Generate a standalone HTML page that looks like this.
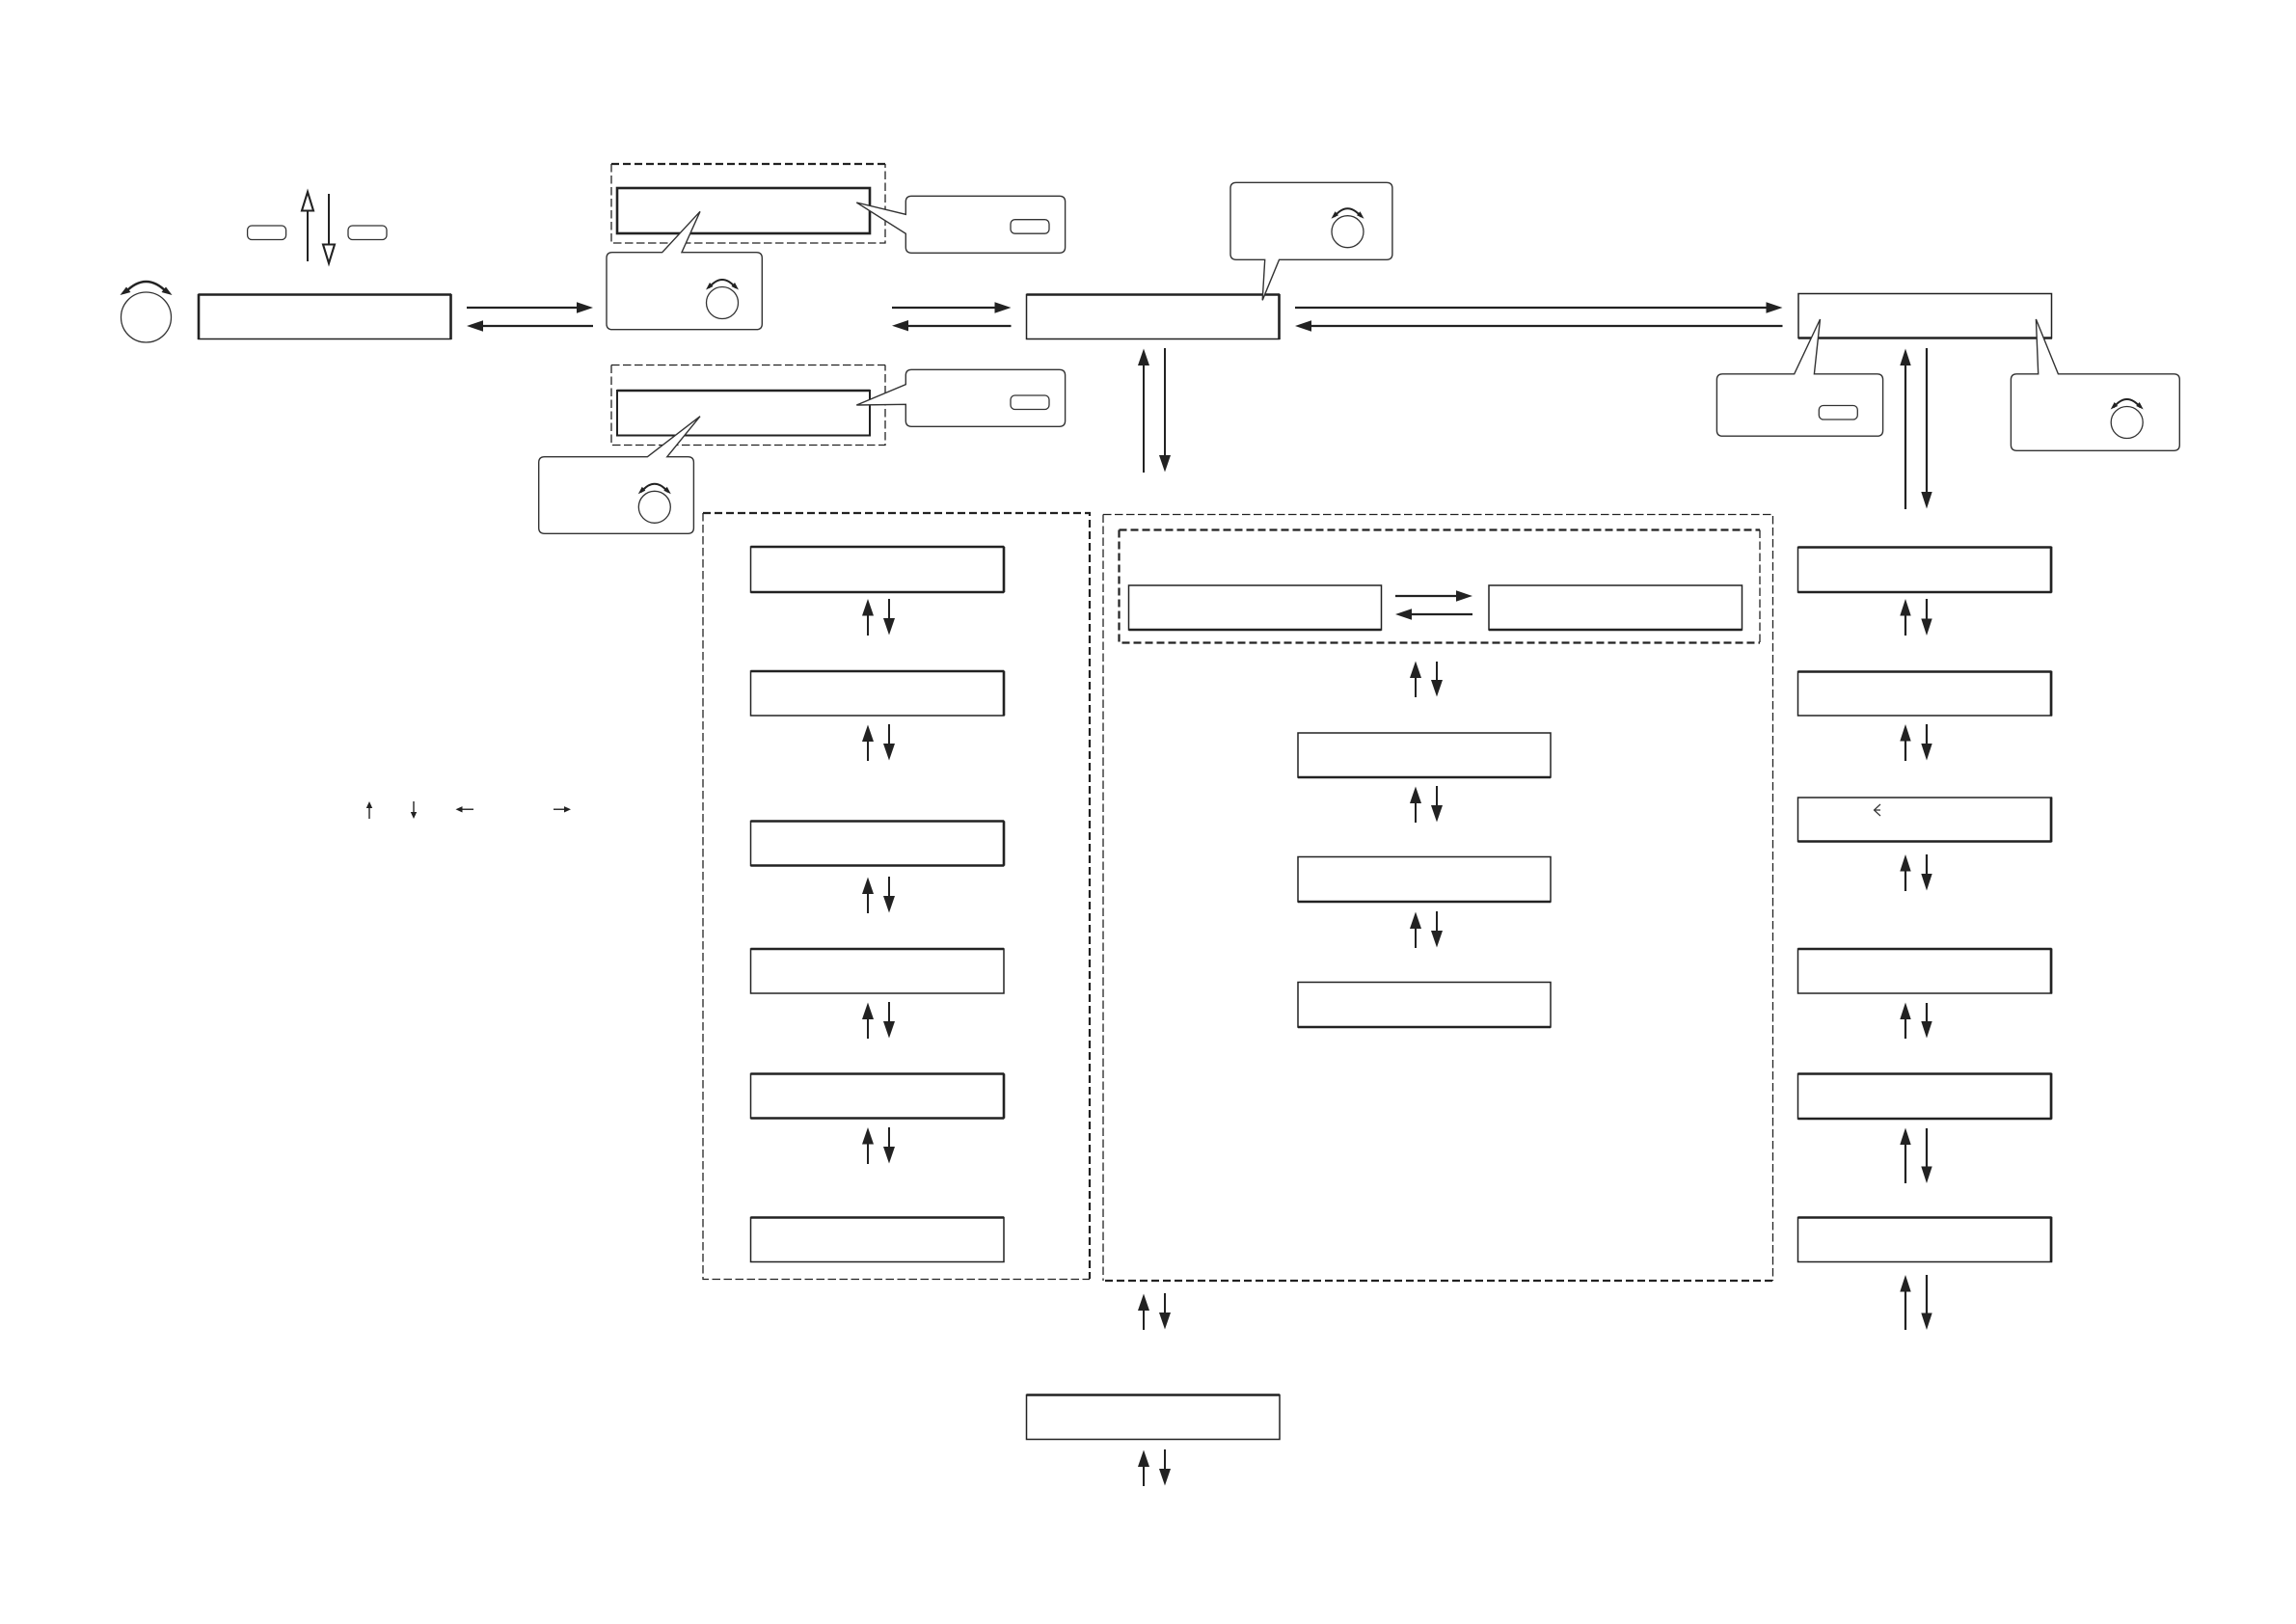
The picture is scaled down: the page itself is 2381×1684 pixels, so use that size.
<!DOCTYPE html>
<html>
<head>
<meta charset="utf-8">
<title>Diagram</title>
<style>
html,body{margin:0;padding:0;background:#fff;width:2381px;height:1684px;overflow:hidden}
svg{display:block}
.b{fill:#fff;stroke:#222;stroke-width:1.5}
.t{fill:none;stroke:#222;stroke-width:2.6}
.c{fill:#fff;stroke:#333;stroke-width:1.4}
.l{fill:none;stroke:#222;stroke-width:2.2}
.v{fill:none;stroke:#222;stroke-width:2}
.h{fill:#222;stroke:none}
.d1{fill:none;stroke:#222;stroke-width:1.3;stroke-dasharray:8.5 3.5}
.d2{fill:none;stroke:#222;stroke-width:2.2;stroke-dasharray:8 4}
.k{fill:#fff;stroke:#333;stroke-width:1.3}
</style>
</head>
<body>
<svg xmlns="http://www.w3.org/2000/svg" width="2381" height="1684" viewBox="0 0 2381 1684">
<defs>
<g id="knob">
<circle cx="0" cy="0" r="16.5" class="k"/>
<path d="M-14 -15.5Q0 -32.5 14 -15.5" fill="none" stroke="#222" stroke-width="2"/>
<polygon class="h" points="-17,-13.5 -13,-21 -9.5,-17"/>
<polygon class="h" points="17,-13.5 13,-21 9.5,-17"/>
</g>
<rect id="btn" x="0" y="0" width="40" height="14.5" rx="4.5" class="k"/>
</defs>

<!-- dashed groups, upper -->
<path class="d2" d="M634 170H918"/>
<path class="d1" d="M634 170V252H918V170"/>
<path class="d1" d="M634 378.5H918M634 378.5V461.5H918V378.5"/>

<!-- large dashed panels -->
<path class="d2" d="M729 532H1130V1326"/>
<path class="d1" d="M729 532V1326.5H1130"/>
<path class="d1" d="M1144 533.5H1838.5V1328M1144 533.5V1328"/>
<path class="d2" d="M1146 1328H1838"/>
<path class="d2" d="M1160.5 549.5H1825M1160.5 549.5V666.5H1825"/>
<path class="d1" d="M1825 549.5V666.5" stroke-width="1.6"/>

<!-- top-row boxes -->
<rect class="b" x="206" y="305.5" width="261.5" height="46"/>
<path class="t" d="M205.5 305.5H468M467.5 305V352M206 305V352"/>
<rect class="b" x="640" y="195" width="262" height="47" style="stroke-width:2.6"/>
<rect class="b" x="640" y="405" width="262" height="46.5" style="stroke-width:2"/>
<path class="t" d="M640 405H902"/>
<rect class="b" x="1064.5" y="305.5" width="262" height="46"/>
<path class="t" d="M1064.5 305.5H1327M1326.5 305V352"/>
<rect class="b" x="1865" y="304.5" width="262.5" height="46"/>
<path class="t" d="M1865 350.5H2128"/>

<!-- left column -->
<rect class="b" x="778.5" y="567" width="262.5" height="47"/><path class="t" d="M778.5 567H1041M1041 567V614M778.5 614H1041"/>
<rect class="b" x="778.5" y="696" width="262.5" height="46"/><path class="t" d="M778.5 696H1041M1041 696V742"/>
<rect class="b" x="778.5" y="851.5" width="262.5" height="46"/><path class="t" d="M778.5 851.5H1041M1041 851.5V897.5M778.5 897.5H1041"/>
<rect class="b" x="778.5" y="984" width="262.5" height="46"/><path class="t" d="M778.5 984H1041"/>
<rect class="b" x="778.5" y="1113.5" width="262.5" height="46"/><path class="t" d="M778.5 1113.5H1041M1041 1113.5V1159.5M778.5 1159.5H1041"/>
<rect class="b" x="778.5" y="1262.5" width="262.5" height="46"/><path class="t" d="M778.5 1262.5H1041"/>

<!-- inner boxes in middle panel -->
<rect class="b" x="1170.5" y="607" width="262" height="46"/><path class="t" d="M1170.5 653H1432.5"/>
<rect class="b" x="1544" y="607" width="262.5" height="46"/><path class="t" d="M1544 653H1806.5"/>

<!-- middle column -->
<rect class="b" x="1346" y="760" width="262" height="46"/><path class="t" d="M1346 806H1608"/>
<rect class="b" x="1346" y="888.5" width="262" height="46.5"/><path class="t" d="M1346 935H1608"/>
<rect class="b" x="1346" y="1018.5" width="262" height="46.5"/><path class="t" d="M1346 1065H1608"/>

<!-- bottom centre box -->
<rect class="b" x="1064.5" y="1446.5" width="262.5" height="46"/><path class="t" d="M1064.5 1446.5H1327"/>

<!-- right column -->
<rect class="b" x="1864.5" y="567.5" width="263" height="46.5"/><path class="t" d="M1864.5 567.5H2127.5M2127 567V614M1864.5 614H2127.5"/>
<rect class="b" x="1864.5" y="696.5" width="263" height="45.5"/><path class="t" d="M1864.5 696.5H2127.5M2127 696V742"/>
<rect class="b" x="1864.5" y="827" width="263" height="45.5"/><path class="t" d="M2127 827V873M1864.5 872.5H2127.5"/>
<rect class="b" x="1864.5" y="984" width="263" height="46"/><path class="t" d="M1864.5 984H2127.5M2127 984V1030"/>
<rect class="b" x="1864.5" y="1113.5" width="263" height="46.5"/><path class="t" d="M1864.5 1113.5H2127.5M2127 1113V1160M1864.5 1160H2127.5"/>
<rect class="b" x="1864.5" y="1262.5" width="263" height="46"/><path class="t" d="M1864.5 1262.5H2127.5M2127 1262V1308.5"/>
<path d="M1950 834L1943.5 840L1950 846M1943.5 840H1950" fill="none" stroke="#333" stroke-width="1.2"/>

<!-- callouts -->
<path class="c" d="M635 261.7H686.7L726 219.3L707 261.7H784.3Q790.3 261.7 790.3 267.7V335.7Q790.3 341.7 784.3 341.7H635Q629 341.7 629 335.7V267.7Q629 261.7 635 261.7Z"/>
<path class="c" d="M564.7 473.7H671.4L726 431.7L691.8 473.7H713.4Q719.4 473.7 719.4 479.7V547.3Q719.4 553.3 713.4 553.3H564.7Q558.7 553.3 558.7 547.3V479.7Q558.7 473.7 564.7 473.7Z"/>
<path class="c" d="M945.3 203.3H1098.6Q1104.6 203.3 1104.6 209.3V256.3Q1104.6 262.3 1098.6 262.3H945.3Q939.3 262.3 939.3 256.3V242.3L888.3 210L939.3 222.3V209.3Q939.3 203.3 945.3 203.3Z"/>
<path class="c" d="M945.3 383.3H1098.6Q1104.6 383.3 1104.6 389.3V436.3Q1104.6 442.3 1098.6 442.3H945.3Q939.3 442.3 939.3 436.3V419.3L888.3 420L939.3 398.7V389.3Q939.3 383.3 945.3 383.3Z"/>
<path class="c" d="M1282 189.3H1437.9Q1443.9 189.3 1443.9 195.3V263.3Q1443.9 269.3 1437.9 269.3H1326.5L1309.2 311.3L1311.7 269.3H1282Q1276 269.3 1276 263.3V195.3Q1276 189.3 1282 189.3Z"/>
<path class="c" d="M1786.4 387.8H1860.7L1887.5 331L1881.4 387.8H1946.6Q1952.6 387.8 1952.6 393.8V446.2Q1952.6 452.2 1946.6 452.2H1786.4Q1780.4 452.2 1780.4 446.2V393.8Q1780.4 387.8 1786.4 387.8Z"/>
<path class="c" d="M2091.4 387.8H2113.7L2111.4 331L2134.4 387.8H2254.3Q2260.3 387.8 2260.3 393.8V461.3Q2260.3 467.3 2254.3 467.3H2091.4Q2085.4 467.3 2085.4 461.3V393.8Q2085.4 387.8 2091.4 387.8Z"/>

<!-- knobs and buttons -->
<circle cx="151.5" cy="329" r="26" class="k"/>
<path d="M130 303Q151.5 281 173 303" fill="none" stroke="#222" stroke-width="2.4"/>
<polygon class="h" points="124.5,306 131,297.5 135.5,303"/>
<polygon class="h" points="178.5,306 172,297.5 167.5,303"/>
<use href="#knob" x="749" y="314"/>
<use href="#knob" x="678.8" y="525.8"/>
<use href="#knob" x="1397.5" y="240.2"/>
<use href="#knob" x="2205.7" y="438"/>
<use href="#btn" x="256.6" y="234"/>
<use href="#btn" x="361" y="234"/>
<use href="#btn" x="1048" y="227.7"/>
<use href="#btn" x="1048" y="410"/>
<use href="#btn" x="1886.3" y="420.5"/>

<!-- hollow arrows -->
<path class="v" d="M319 271V218"/>
<polygon points="319,199 313,218.5 325,218.5" fill="#fff" stroke="#222" stroke-width="2.1"/>
<path class="v" d="M341 201V253"/>
<polygon points="341,273 335,253.5 347,253.5" fill="#fff" stroke="#222" stroke-width="2.1"/>

<!-- horizontal arrows -->
<path class="l" d="M484 319H600M500 338H615"/>
<polygon class="h" points="615,319 598,313.3 598,324.7"/>
<polygon class="h" points="484,338 501,332.3 501,343.7"/>
<path class="l" d="M925 319H1035M941 338H1048.5"/>
<polygon class="h" points="1048.5,319 1031.5,313.3 1031.5,324.7"/>
<polygon class="h" points="925,337.7 942,332 942,343.4"/>
<path class="l" d="M1343 319H1835M1358 338H1848.5"/>
<polygon class="h" points="1848.5,319 1831.5,313.3 1831.5,324.7"/>
<polygon class="h" points="1343,338 1360,332.3 1360,343.7"/>
<path class="l" d="M1447 618H1515M1462 637H1527"/>
<polygon class="h" points="1527,618 1510,612.3 1510,623.7"/>
<polygon class="h" points="1447,637 1464,631.3 1464,642.7"/>

<!-- vertical arrow shafts -->
<path class="v" d="M1186 490V375M1208 361V476
M900 659V635M922 621V645
M900 789V765M922 751V775
M900 947V923M922 909V933
M900 1077V1053M922 1039V1063
M900 1207V1183M922 1169V1193
M1468 723V699M1490 686V709
M1468 853V829M1490 815V839
M1468 983V959M1490 945V969
M1186 1379V1355M1208 1341V1365
M1186 1541V1517M1208 1503V1527"/>
<path class="l" d="M1976 528V375M1998 361V514
M1976 659V635M1998 621V645
M1976 789V765M1998 751V775
M1976 924V900M1998 886V910
M1976 1077V1053M1998 1040V1063
M1976 1227V1183M1998 1170V1213
M1976 1379V1336M1998 1322V1365"/>

<!-- vertical arrow heads -->
<g class="h">
<polygon points="1186,361.5 1180,379 1192,379"/><polygon points="1208,489.5 1202,472 1214,472"/>
<polygon points="900,621 894,638.5 906,638.5"/><polygon points="922,658.5 916,641 928,641"/>
<polygon points="900,751.5 894,769 906,769"/><polygon points="922,788.5 916,771 928,771"/>
<polygon points="900,909.5 894,927 906,927"/><polygon points="922,946.5 916,929 928,929"/>
<polygon points="900,1039.5 894,1057 906,1057"/><polygon points="922,1076.5 916,1059 928,1059"/>
<polygon points="900,1169 894,1186.5 906,1186.5"/><polygon points="922,1206.5 916,1189 928,1189"/>
<polygon points="1468,685.5 1462,703 1474,703"/><polygon points="1490,722.5 1484,705 1496,705"/>
<polygon points="1468,815.5 1462,833 1474,833"/><polygon points="1490,852.5 1484,835 1496,835"/>
<polygon points="1468,945.5 1462,963 1474,963"/><polygon points="1490,982.5 1484,965 1496,965"/>
<polygon points="1186,1341.5 1180,1359 1192,1359"/><polygon points="1208,1378.5 1202,1361 1214,1361"/>
<polygon points="1186,1503.5 1180,1521 1192,1521"/><polygon points="1208,1540.5 1202,1523 1214,1523"/>
<polygon points="1976,361.5 1970.3,379 1981.7,379"/><polygon points="1998,527.5 1992.3,510 2003.7,510"/>
<polygon points="1976,621 1970.3,638.5 1981.7,638.5"/><polygon points="1998,659 1992.3,641.5 2003.7,641.5"/>
<polygon points="1976,751 1970.3,768.5 1981.7,768.5"/><polygon points="1998,788.5 1992.3,771 2003.7,771"/>
<polygon points="1976,886 1970.3,903.5 1981.7,903.5"/><polygon points="1998,923.5 1992.3,906 2003.7,906"/>
<polygon points="1976,1039.5 1970.3,1057 1981.7,1057"/><polygon points="1998,1076.5 1992.3,1059 2003.7,1059"/>
<polygon points="1976,1169.5 1970.3,1187 1981.7,1187"/><polygon points="1998,1227 1992.3,1209.5 2003.7,1209.5"/>
<polygon points="1976,1322 1970.3,1339.5 1981.7,1339.5"/><polygon points="1998,1379 1992.3,1361.5 2003.7,1361.5"/>
</g>

<!-- small legend arrows -->
<path d="M383 849V836M429 831V844M478 839.3H491M574 839.3H587" fill="none" stroke="#333" stroke-width="1.5"/>
<g class="h">
<polygon points="383,831 379.8,838 386.2,838"/>
<polygon points="429,849 425.8,842 432.2,842"/>
<polygon points="472.5,839.3 479.5,836.1 479.5,842.5"/>
<polygon points="592,839.3 585,836.1 585,842.5"/>
</g>
</svg>
</body>
</html>
